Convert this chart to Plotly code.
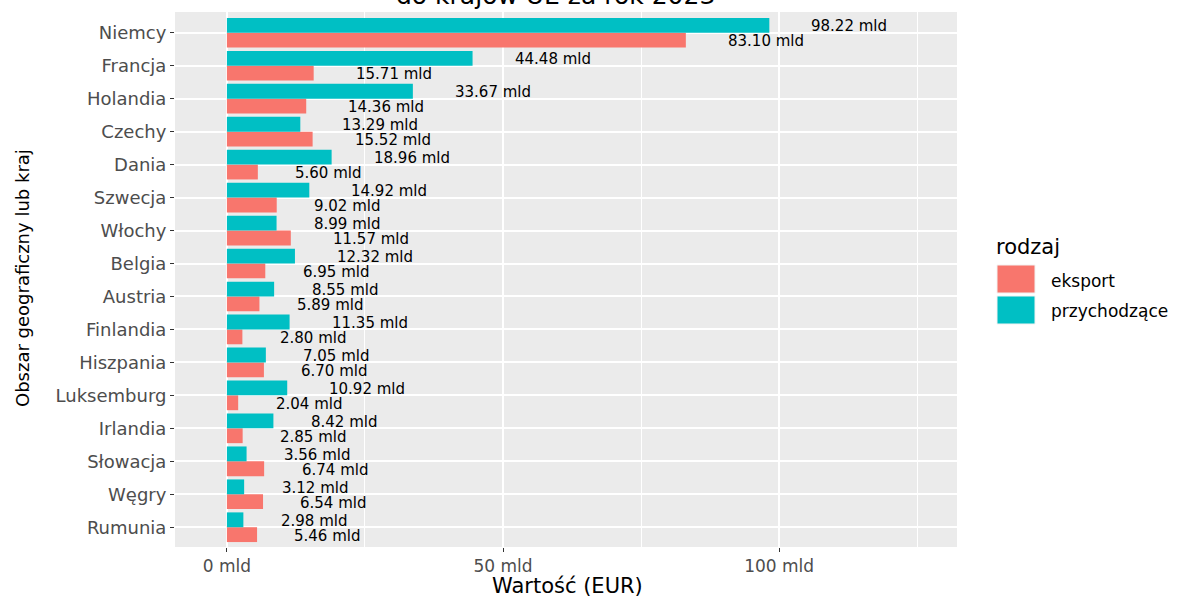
import plotly.graph_objects as go

# ---- data (top to bottom as shown) ----
countries = ["Niemcy", "Francja", "Holandia", "Czechy", "Dania", "Szwecja", "Włochy",
             "Belgia", "Austria", "Finlandia", "Hiszpania", "Luksemburg", "Irlandia",
             "Słowacja", "Węgry", "Rumunia"]
przychodzace = [98.22, 44.48, 33.67, 13.29, 18.96, 14.92, 8.99, 12.32, 8.55, 11.35,
                7.05, 10.92, 8.42, 3.56, 3.12, 2.98]
eksport = [83.10, 15.71, 14.36, 15.52, 5.60, 9.02, 11.57, 6.95, 5.89, 2.80,
           6.70, 2.04, 2.85, 6.74, 6.54, 5.46]
series_names = ["eksport", "przychodzące"]
colors = {"eksport": "#F8766D", "przychodzące": "#00BFC4"}
x_ticks = [0, 50, 100]
x_ticktext = ["0 mld", "50 mld", "100 mld"]
title_text = "do krajów UE za rok 2023"
x_title = "Wartość (EUR)"
y_title = "Obszar geograficzny lub kraj"
legend_title = "rodzaj"

FONT = "DejaVu Sans"
order = countries[::-1]  # bottom to top
idx = {c: i for i, c in enumerate(order)}

fig = go.Figure()
vals = {"eksport": eksport, "przychodzące": przychodzace}
for name in series_names:
    fig.add_trace(go.Bar(
        y=countries, x=vals[name], orientation="h", name=name,
        marker=dict(color=colors[name], line=dict(width=0)),
        showlegend=False, hoverinfo="skip",
    ))

annotations = []
offsets = {"eksport": -0.225, "przychodzące": 0.225}
for name in series_names:
    for c, v in zip(countries, vals[name]):
        t = f"{v:.2f} mld"
        annotations.append(dict(
            x=v, y=idx[c] + offsets[name], xref="x", yref="y",
            text=t, showarrow=False, xanchor="left", yanchor="middle",
            xshift=len(t) * 4.55, yshift=-1, borderpad=0,
            font=dict(family=FONT, size=15, color="#000000"),
        ))

# plot area geometry helpers (pixels)
L, R, T, B = 175, 957, 12, 547
W, H = R - L, B - T
def px(xp):
    return (xp - L) / W
def py(yp):
    return (B - yp) / H

# title (mostly cut off at top, as in reference)
annotations.append(dict(
    x=px(555), y=1, xref="paper", yref="paper", text=title_text, showarrow=False,
    xanchor="center", yanchor="bottom", yshift=1, borderpad=0,
    font=dict(family=FONT, size=25, color="#000000"),
))
# y-axis title
annotations.append(dict(
    x=px(22), y=py(278), xref="paper", yref="paper", text=y_title, showarrow=False,
    textangle=-90, xanchor="center", yanchor="middle", borderpad=0,
    font=dict(family=FONT, size=18, color="#000000"),
))
# x-axis title
annotations.append(dict(
    x=px(567), y=py(586), xref="paper", yref="paper", text=x_title, showarrow=False,
    xanchor="center", yanchor="middle", borderpad=0,
    font=dict(family=FONT, size=21, color="#000000"),
))
# legend (manual, ggplot style)
annotations.append(dict(
    x=px(995), y=py(247), xref="paper", yref="paper", text=legend_title, showarrow=False,
    xanchor="left", yanchor="middle", borderpad=0,
    font=dict(family=FONT, size=21, color="#000000"),
))
shapes = []
key_rows = [("eksport", 265, 293, 281), ("przychodzące", 296, 324, 311)]
for name, y0, y1, yc in key_rows:
    shapes.append(dict(type="rect", xref="paper", yref="paper",
                       x0=px(997), x1=px(1035), y0=py(y1), y1=py(y0),
                       fillcolor=colors[name], line=dict(color="#F2F2F2", width=1)))
    annotations.append(dict(
        x=px(1050), y=py(yc), xref="paper", yref="paper", text=name, showarrow=False,
        xanchor="left", yanchor="middle", borderpad=0,
        font=dict(family=FONT, size=17, color="#000000"),
    ))

fig.update_layout(
    width=1179, height=597,
    margin=dict(l=L, r=1179 - R, t=T, b=597 - B, pad=0),
    paper_bgcolor="white", plot_bgcolor="#EBEBEB",
    barmode="group", bargap=0.1, bargroupgap=0,
    annotations=annotations, shapes=shapes,
    showlegend=False,
)
fig.update_xaxes(
    range=[-9.4, 132.2], tickvals=x_ticks, ticktext=x_ticktext,
    showgrid=True, gridcolor="white", gridwidth=1.6, zeroline=False,
    ticks="outside", ticklen=4, tickcolor="#333333", tickwidth=1,
    tickfont=dict(family=FONT, size=17, color="#4D4D4D"),
    minor=dict(dtick=25, tick0=0, showgrid=True, gridcolor="white", gridwidth=0.8, ticks=""),
    showline=False, fixedrange=True,
)
fig.update_yaxes(
    type="category", categoryorder="array", categoryarray=order,
    range=[-0.6, 15.63],
    showgrid=True, gridcolor="white", gridwidth=1.6, zeroline=False,
    ticks="outside", ticklen=4, tickcolor="#333333", tickwidth=1,
    tickfont=dict(family=FONT, size=18, color="#4D4D4D"),
    showline=False, fixedrange=True,
)

fig.write_html(
    "out.html",
    config={"displayModeBar": False},
    post_script="document.body.style.margin='0';document.body.style.overflow='hidden';",
)
